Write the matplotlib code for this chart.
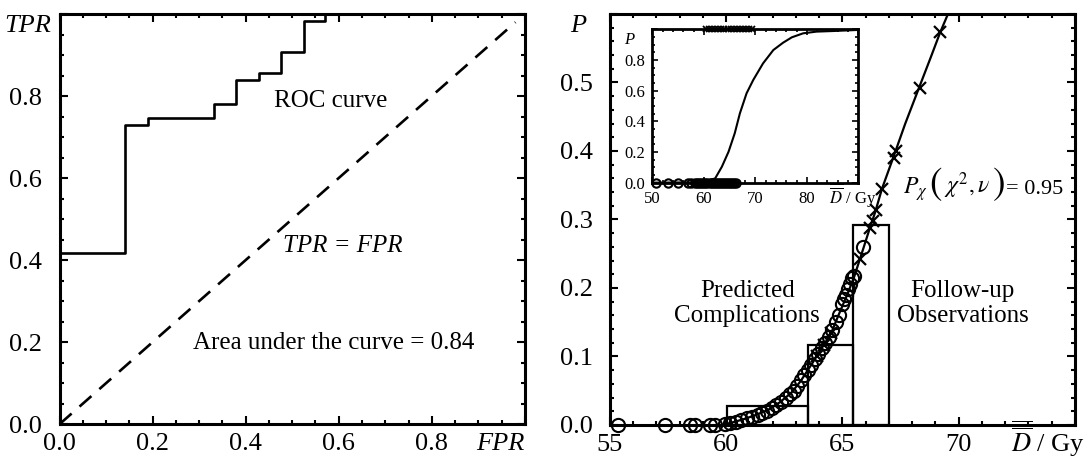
import matplotlib
matplotlib.use('Agg')
import matplotlib.pyplot as plt
from matplotlib.ticker import MultipleLocator, FixedLocator, FixedFormatter
from matplotlib.offsetbox import TextArea, HPacker, AnnotationBbox

plt.rcParams['font.family'] = ['Liberation Serif', 'DejaVu Serif']
plt.rcParams['mathtext.fontset'] = 'stix'

# ---------------- data: ROC panel ----------------
roc_fpr = [0.0, 0.140, 0.190, 0.331, 0.379, 0.428, 0.475, 0.525, 0.571, 1.0]
roc_tpr = [0.417, 0.729, 0.747, 0.780, 0.838, 0.857, 0.908, 0.982, 1.0, 1.0]
diag_x = [0.0, 0.98]
diag_y = [0.0, 0.98]
roc_ticks = [0.0, 0.2, 0.4, 0.6, 0.8, 1.0]
roc_ticklabels = ['0.0', '0.2', '0.4', '0.6', '0.8', '']

# ---------------- data: dose-response panel ----------------
curve_D = [59.8, 60.3, 60.8, 61.3, 61.8, 62.3, 62.8, 63.2, 63.7, 64.1, 64.5, 64.8,
           65.2, 65.5, 65.9, 66.2, 66.4, 66.7, 67.2, 67.7, 68.3, 68.8, 69.2, 69.6]
curve_P = [0.0, 0.004, 0.009, 0.015, 0.022, 0.033, 0.047, 0.064, 0.090, 0.112, 0.133, 0.158,
           0.190, 0.216, 0.258, 0.290, 0.310, 0.345, 0.392, 0.440, 0.493, 0.537, 0.573, 0.605]

circ_D = [55.36, 57.37, 58.44, 58.66, 59.30, 59.52, 59.95, 60.15, 60.40, 60.65, 60.90,
          61.10, 61.35, 61.55, 61.75, 61.95, 62.15, 62.35, 62.55, 62.75, 62.90, 63.05,
          63.20, 63.35, 63.50, 63.65, 63.80, 63.95, 64.10, 64.25, 64.40, 64.55, 64.70,
          64.85, 65.00, 65.08, 65.15, 65.25, 65.33, 65.42, 65.50, 65.90]
circ_P = [0.0, 0.0, 0.0, 0.0, 0.0, 0.0, 0.001, 0.003, 0.005, 0.007, 0.010,
          0.012, 0.015, 0.018, 0.021, 0.025, 0.029, 0.034, 0.040, 0.045, 0.050, 0.057,
          0.065, 0.073, 0.080, 0.087, 0.096, 0.104, 0.112, 0.120, 0.128, 0.138, 0.150,
          0.160, 0.176, 0.184, 0.190, 0.198, 0.206, 0.214, 0.218, 0.260]

cross_D = [63.90, 64.20, 64.50, 65.75, 66.20, 66.30, 66.45, 66.70, 67.20, 67.30, 68.33, 69.19]
cross_P = [0.100, 0.117, 0.134, 0.243, 0.288, 0.298, 0.314, 0.345, 0.390, 0.400, 0.492, 0.574]

bin_edges = [60.03, 63.51, 65.44, 67.01]
bin_heights = [0.0274, 0.117, 0.292]

main_xticks = [55, 60, 65, 70, 75]
main_xticklabels = ['55', '60', '65', '70', '']
main_yticks = [0.0, 0.1, 0.2, 0.3, 0.4, 0.5, 0.6]
main_yticklabels = ['0.0', '0.1', '0.2', '0.3', '0.4', '0.5', '']

# ---------------- data: inset ----------------
inset_D = [50.0, 57.0, 60.0, 62.2, 63.5, 64.8, 66.0, 67.0, 68.3, 69.6, 71.5, 73.5,
           75.4, 77.1, 79.3, 81.9, 85.2, 90.0]
inset_P = [0.0, 0.002, 0.006, 0.028, 0.104, 0.202, 0.322, 0.452, 0.583, 0.670, 0.778,
           0.865, 0.913, 0.948, 0.974, 0.985, 0.989, 0.996]
inset_circ_D = [50.8, 53.1, 55.0, 57.0, 57.6, 58.2, 58.6, 59.0, 59.4, 59.9, 60.3, 60.7,
                61.1, 61.5, 61.9, 62.3, 62.7, 63.1, 63.5, 63.9, 64.3, 64.7, 65.1, 65.5,
                65.9, 66.3]
inset_circ_P = [0.0] * len(inset_circ_D)
inset_cross_D = [60.4, 61.0, 61.6, 62.2, 62.8, 63.4, 64.0, 64.6, 65.2, 65.8, 66.4,
                 67.0, 67.6, 68.2, 68.8, 69.4]
inset_cross_P = [1.0] * len(inset_cross_D)
inset_xticks = [50, 60, 70, 80, 90]
inset_xticklabels = ['50', '60', '70', '80', '']
inset_yticks = [0.0, 0.2, 0.4, 0.6, 0.8, 1.0]
inset_yticklabels = ['0.0', '0.2', '0.4', '0.6', '0.8', '']

DLABEL = r'$\overline{\overline{D}}$ / Gy'


def style(ax, spine_lw, maj, mnr, tw, fs, padx, pady):
    for s in ax.spines.values():
        s.set_linewidth(spine_lw)
    ax.tick_params(which='both', direction='in', top=True, right=True, width=tw)
    ax.tick_params(which='major', length=maj, labelsize=fs)
    ax.tick_params(which='minor', length=mnr)
    ax.tick_params(axis='x', pad=padx)
    ax.tick_params(axis='y', pad=pady)


fig = plt.figure(figsize=(10.84, 4.58), dpi=100)
ax1 = fig.add_axes([0.0551, 0.0742, 0.4290, 0.8952])
ax2 = fig.add_axes([0.5627, 0.0721, 0.4290, 0.8974])
ax3 = fig.add_axes([0.6018, 0.6011, 0.1900, 0.3349])

# ---------- ROC ----------
ax1.step(roc_fpr, roc_tpr, where='post', color='black', lw=1.9, clip_on=False, zorder=3)
ax1.plot(diag_x, diag_y, color='black', lw=1.9, ls=(0, (6, 4)))
ax1.set_xlim(0, 1)
ax1.set_ylim(0, 1)
ax1.xaxis.set_major_locator(FixedLocator(roc_ticks))
ax1.xaxis.set_major_formatter(FixedFormatter(roc_ticklabels))
ax1.yaxis.set_major_locator(FixedLocator(roc_ticks))
ax1.yaxis.set_major_formatter(FixedFormatter(roc_ticklabels))
ax1.xaxis.set_minor_locator(MultipleLocator(0.05))
ax1.yaxis.set_minor_locator(MultipleLocator(0.05))
style(ax1, 2.2, 6, 3.2, 1.5, 19, 6.5, 13)
ax1.annotate('FPR', xy=(1.0, 0), xycoords='axes fraction', xytext=(0, -6.5),
             textcoords='offset points', ha='right', va='top', fontsize=19, style='italic')
ax1.annotate('TPR', xy=(0, 1.0), xycoords='axes fraction', xytext=(-6, -0.5),
             textcoords='offset points', ha='right', va='top', fontsize=19, style='italic')
ax1.text(0.582, 0.789, 'ROC curve', ha='center', va='center', fontsize=18)
ax1.text(0.608, 0.433, 'TPR = FPR', ha='center', va='center', fontsize=18, style='italic')
ax1.text(0.59, 0.198, 'Area under the curve = 0.84', ha='center', va='center', fontsize=18)

# ---------- dose response ----------
ax2.bar(bin_edges[:-1], bin_heights,
        width=[bin_edges[i + 1] - bin_edges[i] for i in range(len(bin_heights))],
        align='edge', fill=False, edgecolor='black', lw=1.6, zorder=2)
ax2.plot(curve_D, curve_P, color='black', lw=1.6, zorder=3)
ax2.plot(circ_D, circ_P, ls='none', marker='o', ms=9.5, mfc='none', mec='black',
         mew=1.5, zorder=4, clip_on=False)
ax2.plot(cross_D, cross_P, ls='none', marker='x', ms=9, mec='black', mew=1.6, zorder=4)
ax2.set_xlim(55, 75)
ax2.set_ylim(0, 0.6)
ax2.xaxis.set_major_locator(FixedLocator(main_xticks))
ax2.xaxis.set_major_formatter(FixedFormatter(main_xticklabels))
ax2.yaxis.set_major_locator(FixedLocator(main_yticks))
ax2.yaxis.set_major_formatter(FixedFormatter(main_yticklabels))
ax2.xaxis.set_minor_locator(MultipleLocator(1))
ax2.yaxis.set_minor_locator(MultipleLocator(0.02))
style(ax2, 2.2, 6, 3.2, 1.5, 19, 6.5, 12)
ax2.annotate('P', xy=(0, 1.0), xycoords='axes fraction', xytext=(-17, -0.5),
             textcoords='offset points', ha='right', va='top', fontsize=19, style='italic')
ax2.annotate(DLABEL, xy=(73.85, 0), xycoords=('data', 'axes fraction'), xytext=(0, -19.3),
             textcoords='offset points', ha='center', va='baseline', fontsize=19)
ax2.text(60.9, 0.177, 'Predicted\nComplications', ha='center', va='center',
         fontsize=18, linespacing=1.2)
ax2.text(70.17, 0.177, 'Follow-up\nObservations', ha='center', va='center',
         fontsize=18, linespacing=1.2)

parts = [TextArea(r'$P_{\chi}$', textprops=dict(fontsize=17)),
         TextArea(r'$($', textprops=dict(fontsize=27)),
         TextArea(r'$\chi^{2},\nu$', textprops=dict(fontsize=17)),
         TextArea(r'$)$', textprops=dict(fontsize=27)),
         TextArea('= 0.95', textprops=dict(fontsize=16))]
pk = HPacker(children=parts, align='baseline', pad=0, sep=1)
ab = AnnotationBbox(pk, (74.5, 0.352), xycoords='data', box_alignment=(1.0, 0.5),
                    frameon=False, pad=0)
ax2.add_artist(ab)

# ---------- inset ----------
ax3.set_facecolor('white')
ax3.plot(inset_D, inset_P, color='black', lw=1.5, zorder=3)
ax3.plot(inset_circ_D, inset_circ_P, ls='none', marker='o', ms=6, mfc='none',
         mec='black', mew=1.5, clip_on=False, zorder=4)
ax3.plot(inset_cross_D, inset_cross_P, ls='none', marker='x', ms=5, mec='black',
         mew=1.3, clip_on=False, zorder=4)
ax3.set_xlim(50, 90)
ax3.set_ylim(0, 1.0)
ax3.xaxis.set_major_locator(FixedLocator(inset_xticks))
ax3.xaxis.set_major_formatter(FixedFormatter(inset_xticklabels))
ax3.yaxis.set_major_locator(FixedLocator(inset_yticks))
ax3.yaxis.set_major_formatter(FixedFormatter(inset_yticklabels))
ax3.xaxis.set_minor_locator(MultipleLocator(2))
ax3.yaxis.set_minor_locator(MultipleLocator(0.05))
style(ax3, 2.0, 4, 2.2, 1.2, 12, 6, 5)
ax3.annotate('P', xy=(0, 1.0), xycoords='axes fraction', xytext=(-13, -2),
             textcoords='offset points', ha='right', va='top', fontsize=12, style='italic')
ax3.annotate(DLABEL, xy=(89, 0), xycoords=('data', 'axes fraction'), xytext=(0, -15),
             textcoords='offset points', ha='center', va='baseline', fontsize=12)

fig.savefig('out.png', dpi=100)
